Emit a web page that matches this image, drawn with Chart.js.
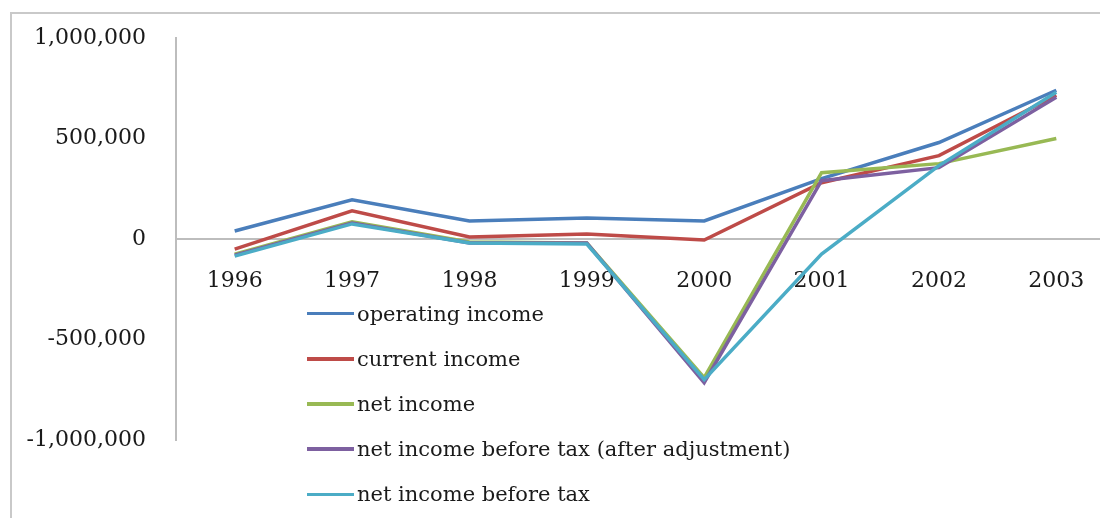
<!DOCTYPE html>
<html>
<head>
<meta charset="utf-8">
<script src="https://cdn.jsdelivr.net/npm/chart.js@4.4.1/dist/chart.umd.min.js"></script>
<style>
  html, body { margin: 0; padding: 0; background: #fff; overflow: hidden; width: 1100px; height: 518px; }
  #frame { position: absolute; left: 10px; top: 12px; width: 1200px; height: 600px; border-left: 2px solid #c9c9c9; border-top: 2px solid #c9c9c9; }
  #wrap { position: absolute; left: 0; top: -12px; width: 1115px; height: 540px; }
  #legend { position: absolute; left: 307px; top: 291px; font-family: "DejaVu Serif", serif; font-size: 21px; color: #1a1a1a; }
  .row { position: relative; height: 45.2px; display: flex; align-items: center; white-space: nowrap; }
  .sw { width: 47px; height: 3.5px; margin-right: 3px; }
</style>
</head>
<body>
<div id="frame"></div>
<div id="wrap"><canvas id="c"></canvas></div>
<div id="legend"></div>
<script>
const categories = ["1996", "1997", "1998", "1999", "2000", "2001", "2002", "2003"];
const operatingIncome = [40000, 195000, 90000, 105000, 90000, 300000, 480000, 740000];
const currentIncome = [-50000, 140000, 10000, 25000, -5000, 280000, 415000, 715000];
const netIncome = [-75000, 85000, -15000, -20000, -690000, 330000, 375000, 500000];
const netIncomeBeforeTaxAdj = [-80000, 80000, -20000, -20000, -715000, 290000, 355000, 705000];
const netIncomeBeforeTax = [-85000, 75000, -20000, -25000, -700000, -75000, 365000, 730000];
const seriesNames = ["operating income", "current income", "net income", "net income before tax (after adjustment)", "net income before tax"];
const seriesColors = ["#4A7EBB", "#BE4B48", "#98B954", "#7D60A0", "#4BACC6"];
const yTicks = [-1000000, -500000, 0, 500000, 1000000];

const seriesData = [operatingIncome, currentIncome, netIncome, netIncomeBeforeTaxAdj, netIncomeBeforeTax];
const datasets = seriesData.map((d, i) => ({
  label: seriesNames[i],
  data: d,
  borderColor: seriesColors[i],
  backgroundColor: seriesColors[i],
  borderWidth: 3.5,
  pointRadius: 0,
  tension: 0,
  order: seriesData.length - 1 - i
}));

const fmt = v => (v < 0 ? "-" : "") + Math.abs(v).toLocaleString("en-US");

const chart = new Chart(document.getElementById("c"), {
  type: "line",
  data: { labels: categories, datasets: datasets },
  options: {
    responsive: true,
    maintainAspectRatio: false,
    animation: false,
    layout: { padding: { left: 0, right: 0, top: 50, bottom: 88 } },
    plugins: { legend: { display: false }, tooltip: { enabled: false } },
    scales: {
      x: {
        position: { y: 0 },
        offset: true,
        grid: { display: false, drawTicks: false },
        border: { display: true, color: "#bdbdbd", width: 2 },
        ticks: { padding: 29, color: "#1a1a1a", font: { family: "DejaVu Serif", size: 22 }, maxRotation: 0 }
      },
      y: {
        min: -1000000,
        max: 1000000,
        grid: { display: false, drawTicks: false },
        border: { display: true, color: "#bdbdbd", width: 2 },
        afterBuildTicks: s => { s.ticks = yTicks.map(v => ({ value: v })); },
        ticks: { padding: 30, color: "#1a1a1a", font: { family: "DejaVu Serif", size: 22 }, callback: v => fmt(v) },
        afterFit: s => { s.width = 176; }
      }
    }
  }
});

const legend = document.getElementById("legend");
chart.data.datasets.forEach(ds => {
  const row = document.createElement("div");
  row.className = "row";
  const sw = document.createElement("span");
  sw.className = "sw";
  sw.style.background = ds.borderColor;
  const t = document.createElement("span");
  t.textContent = ds.label;
  row.appendChild(sw);
  row.appendChild(t);
  legend.appendChild(row);
});
</script>
</body>
</html>
